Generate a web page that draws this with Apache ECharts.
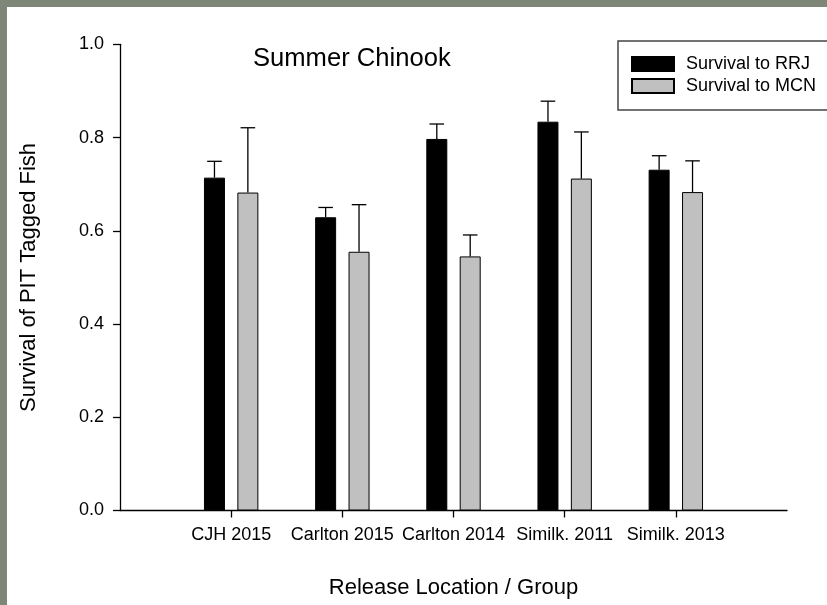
<!DOCTYPE html>
<html>
<head>
<meta charset="utf-8">
<script src="https://cdn.jsdelivr.net/npm/echarts@6/dist/echarts.min.js"></script>
<style>
  html, body { margin: 0; padding: 0; }
  body { width: 827px; height: 605px; background: #7e8677; position: relative; overflow: hidden; }
  #panel { position: absolute; left: 7px; top: 7px; width: 820px; height: 598px; background: #ffffff; }
  #chart { position: absolute; left: 0; top: 0; width: 827px; height: 605px; }
</style>
</head>
<body>
<div id="panel"></div>
<div id="chart"></div>
<script>
// ---- Data ----
const categories = ['CJH 2015', 'Carlton 2015', 'Carlton 2014', 'Similk. 2011', 'Similk. 2013'];
const survivalRRJ = [0.714, 0.629, 0.797, 0.834, 0.731];
const errorRRJ    = [0.035, 0.021, 0.032, 0.044, 0.030];
const survivalMCN = [0.682, 0.555, 0.545, 0.712, 0.683];
const errorMCN    = [0.139, 0.101, 0.046, 0.100, 0.067];
const yTicks = [0, 0.2, 0.4, 0.6, 0.8, 1.0];
const seriesNames = ['Survival to RRJ', 'Survival to MCN'];
const titleText = 'Summer Chinook';
const xTitle = 'Release Location / Group';
const yTitle = 'Survival of PIT Tagged Fish';

// ---- Styling / layout constants ----
const BAR_W = 21;
const BAR_GAP_PX = 12.4;
const OFFSET = (BAR_W + BAR_GAP_PX) / 2;
const CAP_HALF = 7.3;
const FONT = 'Liberation Sans, Arial, Helvetica, sans-serif';

// category axis padded with empty slots at both ends
const xCats = [''].concat(categories, ['']);
const pad = arr => ['-'].concat(arr, ['-']);

function errSeries(vals, errs, offset) {
  return {
    type: 'custom',
    silent: true,
    z: 3,
    data: vals.map((v, i) => [i + 1, v, errs[i]]),
    encode: { x: 0, y: 1 },
    renderItem: function (params, api) {
      const x = api.value(0), v = api.value(1), e = api.value(2);
      const p0 = api.coord([x, v]);
      const p1 = api.coord([x, v + e]);
      const cx = p0[0] + offset;
      const st = { stroke: '#000', lineWidth: 1.3 };
      return {
        type: 'group',
        children: [
          { type: 'line', shape: { x1: cx, y1: p0[1], x2: cx, y2: p1[1] }, style: st },
          { type: 'line', shape: { x1: cx - CAP_HALF, y1: p1[1], x2: cx + CAP_HALF, y2: p1[1] }, style: st }
        ]
      };
    }
  };
}

const chart = echarts.init(document.getElementById('chart'), null, { renderer: 'canvas' });
chart.setOption({
  backgroundColor: 'transparent',
  animation: false,
  textStyle: { fontFamily: FONT },
  title: {
    text: titleText,
    left: 253,
    top: 46,
    padding: 0,
    textStyle: { fontFamily: FONT, fontSize: 25.6, fontWeight: 'normal', color: '#000' }
  },
  legend: {
    data: seriesNames,
    orient: 'vertical',
    left: 618,
    top: 41,
    padding: [14, 40, 15, 13],
    itemGap: 4,
    itemWidth: 42,
    itemHeight: 14,
    borderColor: '#444',
    borderWidth: 1.5,
    borderRadius: 0,
    icon: 'rect',
    textStyle: { fontFamily: FONT, fontSize: 18, color: '#000', lineHeight: 18, padding: [0, 0, 0, 7] }
  },
  grid: { left: 120, top: 44.3, right: 40, bottom: 94.5, containLabel: false },
  xAxis: {
    type: 'category',
    data: xCats,
    boundaryGap: false,
    name: xTitle,
    nameLocation: 'middle',
    nameGap: 66,
    nameTextStyle: { fontFamily: FONT, fontSize: 22, color: '#000' },
    axisLine: { lineStyle: { color: '#000', width: 1.3 } },
    axisTick: {
      show: true, length: 7, inside: false,
      interval: function (idx) { return idx > 0 && idx < xCats.length - 1; },
      lineStyle: { color: '#000', width: 1.3 }
    },
    axisLabel: { interval: 0, margin: 16, fontFamily: FONT, fontSize: 18, color: '#000' },
    splitLine: { show: false }
  },
  yAxis: {
    type: 'value',
    min: yTicks[0],
    max: yTicks[yTicks.length - 1],
    interval: yTicks[1] - yTicks[0],
    name: yTitle,
    nameLocation: 'middle',
    nameGap: 80,
    nameTextStyle: { fontFamily: FONT, fontSize: 22, color: '#000' },
    axisLine: { show: true, lineStyle: { color: '#000', width: 1.3 } },
    axisTick: { show: true, length: 7, lineStyle: { color: '#000', width: 1.3 } },
    axisLabel: { margin: 16, fontFamily: FONT, fontSize: 18, color: '#000', formatter: v => v.toFixed(1) },
    splitLine: { show: false }
  },
  series: [
    {
      name: seriesNames[0], type: 'bar', data: pad(survivalRRJ),
      barWidth: BAR_W, barGap: (BAR_GAP_PX / BAR_W * 100) + '%',
      itemStyle: { color: '#000000', borderColor: '#000', borderWidth: 1 }, z: 2
    },
    {
      name: seriesNames[1], type: 'bar', data: pad(survivalMCN),
      barWidth: BAR_W, barGap: (BAR_GAP_PX / BAR_W * 100) + '%',
      itemStyle: { color: '#c0c0c0', borderColor: '#000', borderWidth: 1 }, z: 2
    },
    errSeries(survivalRRJ, errorRRJ, -OFFSET),
    errSeries(survivalMCN, errorMCN, OFFSET)
  ]
});
</script>
</body>
</html>
